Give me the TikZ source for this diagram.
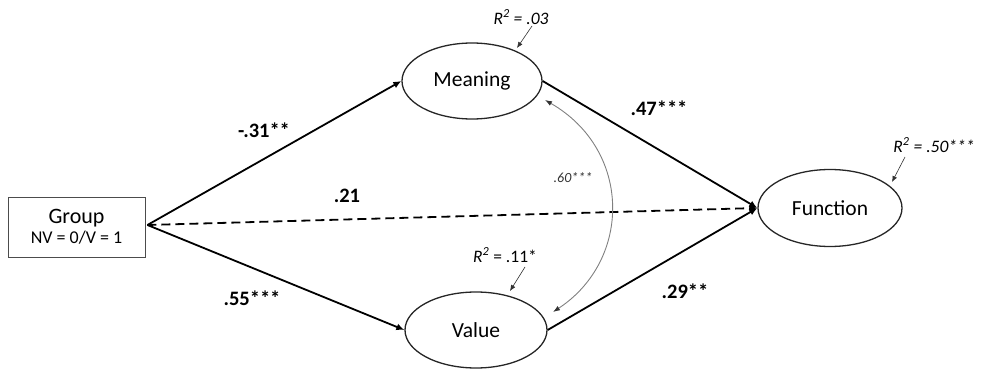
\documentclass[tikz,border=0pt]{standalone}
\usepackage{fontspec}
\setmainfont{Carlito}
\usetikzlibrary{shapes.geometric,arrows.meta}
\begin{document}
\begin{tikzpicture}[x=1pt,y=-1pt,
  latent/.style={ellipse,draw=black!85,line width=1.3pt,inner sep=0pt,font=\fontsize{21.5}{24}\selectfont},
  path/.style={line width=1.8pt,-{Latex[length=8pt,width=7pt]}},
  coef/.style={font=\fontsize{20.5}{22}\selectfont\bfseries},
  rsq/.style={font=\fontsize{17.5}{19}\selectfont\itshape},
  rsqarrow/.style={line width=0.6pt,black!80,-{Latex[length=6pt,width=5pt]}}]
\useasboundingbox (0,0) rectangle (986,374);
\node[draw=black!70,line width=0.9pt,minimum width=137pt,minimum height=60pt,inner sep=0pt,align=center] (group) at (76.5,227)
  {{\fontsize{22}{24}\selectfont Group}\\[3pt]{\fontsize{18}{20}\selectfont NV = 0/V = 1}};
\node[latent,minimum width=140pt,minimum height=76pt] (meaning) at (472,81) {Meaning};
\node[latent,minimum width=142pt,minimum height=76pt] (value) at (476,330) {Value};
\node[latent,minimum width=144pt,minimum height=77pt] (function) at (830,208) {Function};
\coordinate (g) at ([xshift=2pt,yshift=2pt]group.east);
\draw[path] (g) -- (meaning.west);
\draw[path] (g) -- (value.west);
\draw[path,dashed,dash pattern=on 9pt off 5pt] (g) -- (function.west);
\draw[path] (meaning.east) -- (function.west);
\draw[path] (value.east) -- (function.west);
% covariance
\coordinate (c1) at (545,100);
\coordinate (c2) at (553,312);
\draw[black!50,line width=0.9pt,{Latex[length=7pt,width=5pt,black!80]}-{Latex[length=7pt,width=5pt,black!80]}] (c1) .. controls (632,150) and (632,260) .. (c2);
\node[font=\fontsize{14}{16}\selectfont\itshape,text=black!80] (cov) at (573,178) {.60***};
% coefficients
\node[coef] (l1) at (264,130) {-.31**};
\node[coef] (l2) at (252,298) {.55***};
\node[coef] (l3) at (659,108) {.47***};
\node[coef] (l4) at (685,291) {.29**};
\node[coef] (l5) at (347,196) {.21};
% R squared
\node[rsq] (r1) at (521,17) {R\textsuperscript{2}\ = .03};
\coordinate (r1a) at (532,26);
\coordinate (r1b) at (517,48);
\draw[rsqarrow] (r1a) -- (r1b);
\node[rsq] (r2) at (505,255) {R\textsuperscript{2}\upshape\ = .11*};
\coordinate (r2a) at (525,267);
\coordinate (r2b) at (510,291);
\draw[rsqarrow] (r2a) -- (r2b);
\node[rsq] (r3) at (934,145) {R\textsuperscript{2}\ = .50***};
\coordinate (r3a) at (905,157);
\coordinate (r3b) at (892,182);
\draw[rsqarrow] (r3a) -- (r3b);
\end{tikzpicture}
\end{document}
